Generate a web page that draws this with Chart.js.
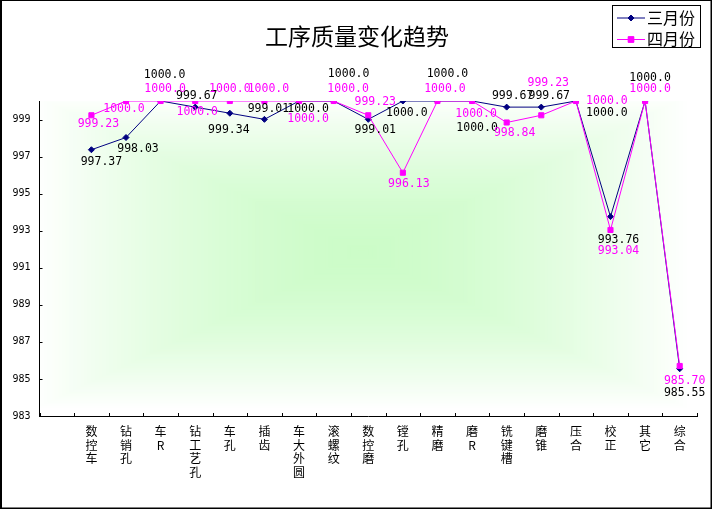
<!DOCTYPE html>
<html>
<head>
<meta charset="utf-8">
<script src="https://cdn.jsdelivr.net/npm/chart.js@4.4.0/dist/chart.umd.min.js"></script>
<style>
html,body{margin:0;padding:0;background:#fff;}
#wrap{width:713px;height:510px;position:relative;}
</style>
</head>
<body>
<div id="wrap"><canvas id="c" width="713" height="510"></canvas></div>
<script>
const chartTitle = "工序质量变化趋势";
const categories = ["", "数控车", "钻销孔", "车R", "钻工艺孔", "车孔", "插齿", "车大外圆", "滚螺纹", "数控磨", "镗孔", "精磨", "磨R", "铣键槽", "磨锥", "压合", "校正", "其它", "综合"];
const seriesNames = ["三月份", "四月份"];
const marchValues = [null, 997.37, 998.03, 1000.0, 999.67, 999.34, 999.01, 1000.0, 1000.0, 999.01, 1000.0, 1000.0, 1000.0, 999.67, 999.67, 1000.0, 993.76, 1000.0, 985.55];
const aprilValues = [null, 999.23, 1000.0, 1000.0, 1000.0, 1000.0, 1000.0, 1000.0, 1000.0, 999.23, 996.13, 1000.0, 1000.0, 998.84, 999.23, 1000.0, 993.04, 1000.0, 985.70];
const yTicks = [983, 985, 987, 989, 991, 993, 995, 997, 999];
const yMin = 983, yMax = 1000;

// label placement offsets (pixels from the point), styling only
const marchLabelOffsets = [null, [10,12],[12,12],[4,-26],[1.5,-11.5],[-1,17],[4,-10.5],[9,8.5],[15,-26.5],[7,11],[4,12.5],[10,-26.5],[5,27.5],[6,-11.5],[8,-11.5],[31,12],[8,23],[5,-23],[5,24]];
const aprilLabelOffsets = [null, [7,8.5],[-2,8.5],[4.5,-12],[2,11],[0,-12],[4,-12],[9,18.5],[14.5,-12],[7,-13],[6,11],[7.5,-12],[4,13],[8,11],[7,-32.5],[31,0],[8,21],[5,-11.5],[5,15]];

const NAVY = "#000080", MAGENTA = "#FF00FF";

const bgPlugin = {
  id: "bg",
  beforeDraw(chart) {
    const ctx = chart.ctx, a = chart.chartArea;
    ctx.save();
    ctx.fillStyle = "#fff";
    ctx.fillRect(0, 0, chart.width, chart.height);
    const w = a.right - a.left, h = a.bottom - a.top;
    const cx = a.left + w * 0.49, cy = a.top + h * 0.48;
    const N = 90;
    for (let k = 0; k < N; k++) {
      const t = 1 - k / N;
      const f = 1 - Math.pow(1 - k / N, 1.6);
      const r = Math.round(255 - (255 - 204) * f);
      const g = Math.round(255 - (255 - 252) * f);
      const b = Math.round(255 - (255 - 200) * f);
      ctx.fillStyle = `rgb(${r},${g},${b})`;
      const hw = w * t / 2, hh = h * t / 2;
      const l = Math.max(a.left, cx - hw), rr = Math.min(a.right, cx + hw);
      const tp = Math.max(a.top, cy - hh), bt = Math.min(a.bottom, cy + hh);
      ctx.fillRect(l, tp, rr - l, bt - tp);
    }
    ctx.restore();
  },
  afterDraw(chart) {
    const ctx = chart.ctx, a = chart.chartArea;
    ctx.save();
    // inward tick marks
    ctx.strokeStyle = "#000";
    ctx.lineWidth = 1;
    const ys = chart.scales.y;
    const n = categories.length;
    ctx.beginPath();
    for (let i = 0; i <= n; i++) {
      const x = Math.round(a.left + i * (a.right - a.left) / n) + 0.5;
      ctx.moveTo(x, a.bottom);
      ctx.lineTo(x, a.bottom - 3);
    }
    yTicks.forEach(v => {
      const y = Math.round(ys.getPixelForValue(v)) + 0.5;
      ctx.moveTo(a.left, y);
      ctx.lineTo(a.left + 3, y);
    });
    ctx.stroke();
    // title
    ctx.fillStyle = "#000";
    ctx.font = '23px "Noto Sans CJK SC"';
    ctx.textAlign = "center";
    ctx.textBaseline = "middle";
    ctx.fillText(chartTitle, 357, 36);
    // legend box
    ctx.fillStyle = "#fff";
    ctx.fillRect(612, 5, 88, 42);
    ctx.strokeStyle = "#000";
    ctx.strokeRect(612.5, 5.5, 88, 42);
    const rows = [[17.5, NAVY, "rectRot", 3], [39, MAGENTA, "rect", 4]];
    rows.forEach((r, i) => {
      ctx.strokeStyle = r[1];
      ctx.beginPath();
      ctx.moveTo(617, r[0] + 0.5);
      ctx.lineTo(645, r[0] + 0.5);
      ctx.stroke();
      ctx.fillStyle = r[1];
      Chart.helpers.drawPoint(ctx, {pointStyle: r[2], radius: r[3], borderWidth: 1}, 631, r[0] + 0.5);
      ctx.fill();
      ctx.fillStyle = "#000";
      ctx.font = '16px "Noto Sans CJK SC"';
      ctx.textAlign = "left";
      ctx.fillText(seriesNames[i], 647, r[0]);
    });
    // outer frame
    ctx.fillStyle = "#000";
    ctx.fillRect(0, 0, 2, 509);
    ctx.fillRect(0, 0, 712, 1);
    ctx.fillRect(710.5, 0, 1.5, 509);
    ctx.fillRect(0, 507.5, 712, 1.5);
    ctx.restore();
  }
};

const labelPlugin = {
  id: "vlabels",
  afterDatasetsDraw(chart) {
    const ctx = chart.ctx;
    ctx.save();
    ctx.font = '11.5px "DejaVu Sans Mono"';
    ctx.textAlign = "center";
    ctx.textBaseline = "middle";
    const conf = [[0, marchValues, marchLabelOffsets, "#000"], [1, aprilValues, aprilLabelOffsets, MAGENTA]];
    conf.forEach(([di, vals, offs, col]) => {
      const meta = chart.getDatasetMeta(di);
      ctx.fillStyle = col;
      meta.data.forEach((pt, i) => {
        const v = vals[i];
        if (v === null || v === undefined) return;
        const o = offs[i] || [0, 0];
        ctx.fillText(v.toPrecision(5), pt.x + o[0], pt.y + o[1]);
      });
    });
    ctx.restore();
  }
};

new Chart(document.getElementById("c"), {
  type: "line",
  data: {
    labels: categories.map(c => c ? Array.from(c) : ""),
    datasets: [
      {
        label: seriesNames[0], data: marchValues,
        borderColor: NAVY, backgroundColor: NAVY, borderWidth: 1,
        pointStyle: "rectRot", pointRadius: 3, pointBorderWidth: 1,
        pointBackgroundColor: NAVY, pointBorderColor: NAVY,
        tension: 0, order: 2
      },
      {
        label: seriesNames[1], data: aprilValues,
        borderColor: MAGENTA, backgroundColor: MAGENTA, borderWidth: 1,
        pointStyle: "rect", pointRadius: 3.6, pointBorderWidth: 1,
        pointBackgroundColor: MAGENTA, pointBorderColor: MAGENTA,
        tension: 0, order: 1
      }
    ]
  },
  options: {
    responsive: false,
    animation: false,
    devicePixelRatio: 1,
    layout: { padding: { top: 101, right: 16, left: 0, bottom: 0 } },
    plugins: { legend: { display: false }, title: { display: false }, tooltip: { enabled: false } },
    scales: {
      x: {
        offset: true,
        grid: { display: false, drawTicks: false },
        border: { display: true, color: "#000", width: 1 },
        ticks: {
          autoSkip: false, maxRotation: 0, minRotation: 0, padding: 9,
          color: "#000", font: { family: "Noto Sans CJK SC", size: 12, lineHeight: 1.12 }
        },
        afterFit(s) { s.height = 94; }
      },
      y: {
        min: yMin, max: yMax,
        grid: { display: false, drawTicks: false },
        border: { display: true, color: "#000", width: 1 },
        afterBuildTicks(s) { s.ticks = yTicks.map(v => ({ value: v })); },
        ticks: {
          padding: 9, color: "#000",
          font: { family: "DejaVu Sans Mono", size: 10 },
          callback: v => String(v)
        },
        afterFit(s) { s.width = 39.5; }
      }
    }
  },
  plugins: [bgPlugin, labelPlugin]
});
</script>
</body>
</html>
